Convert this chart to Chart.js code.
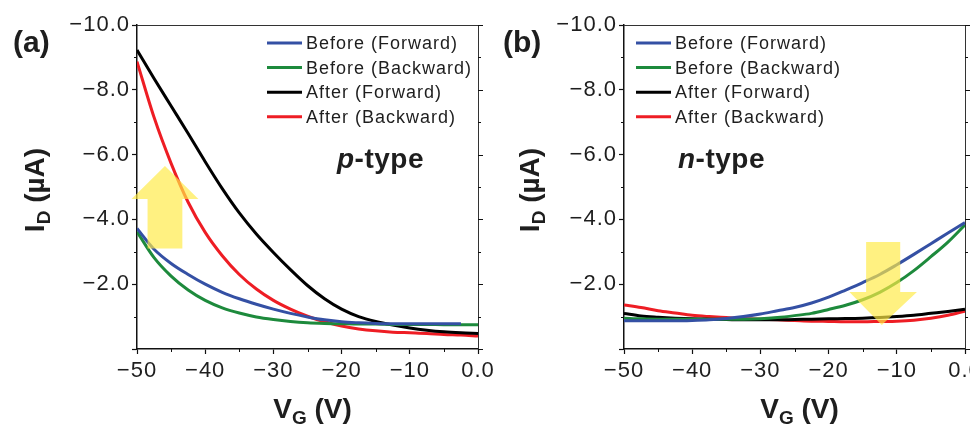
<!DOCTYPE html>
<html>
<head>
<meta charset="utf-8">
<script src="https://cdn.jsdelivr.net/npm/chart.js@4.4.1/dist/chart.umd.min.js"></script>
<style>
    html, body { margin: 0; padding: 0; background: #fff; }
    #wrap { position: relative; width: 970px; height: 426px; overflow: hidden; }
    canvas { position: absolute; top: 0; }
    #chartA { left: 0; }
    #chartB { left: 485px; }
</style>
</head>
<body>
<div id="wrap">
    <canvas id="chartA" width="510" height="426"></canvas>
    <canvas id="chartB" width="510" height="426"></canvas>
</div>
<script>
// gate voltage sweep points (V)
const vgValues = [-50, -47.5, -45, -42.5, -40, -37.5, -35, -32.5, -30, -27.5, -25, -22.5, -20, -17.5, -15, -12.5, -10, -7.5, -5, -2.5, 0];

const seriesLabels = ['Before (Forward)', 'Before (Backward)', 'After (Forward)', 'After (Backward)'];
const seriesColors = ['#3450a4', '#1d8a3c', '#000000', '#ee1d24'];

// (a) p-type, drain current in uA
const pBeforeForward = [-3.72, -3.08, -2.64, -2.3, -2.0, -1.75, -1.55, -1.38, -1.23, -1.1, -0.99, -0.9, -0.84, -0.81, -0.79, -0.78, -0.78, -0.78, -0.78, -0.78, null];
const pBeforeBackward = [-3.62, -2.82, -2.25, -1.82, -1.5, -1.27, -1.11, -0.99, -0.91, -0.85, -0.81, -0.79, -0.78, -0.77, -0.77, -0.76, -0.76, -0.76, -0.75, -0.75, -0.75];
const pAfterForward = [-9.23, -8.35, -7.5, -6.65, -5.78, -4.95, -4.2, -3.55, -2.98, -2.45, -1.96, -1.55, -1.23, -1.0, -0.85, -0.74, -0.65, -0.58, -0.53, -0.5, -0.48];
const pAfterBackward = [-8.87, -7.15, -5.73, -4.53, -3.6, -2.88, -2.3, -1.85, -1.5, -1.23, -1.01, -0.84, -0.71, -0.62, -0.56, -0.52, -0.5, -0.48, -0.45, -0.43, -0.4];

// (b) n-type
const nBeforeForward = [-0.87, -0.87, -0.87, -0.87, -0.88, -0.9, -0.94, -1.0, -1.08, -1.18, -1.28, -1.42, -1.6, -1.82, -2.05, -2.3, -2.6, -2.92, -3.25, -3.58, -3.9];
const nBeforeBackward = [-0.95, -0.93, -0.92, -0.92, -0.92, -0.92, -0.92, -0.92, -0.93, -0.97, -1.03, -1.1, -1.22, -1.35, -1.52, -1.75, -2.05, -2.42, -2.85, -3.3, -3.83];
const nAfterForward = [-1.1, -1.02, -0.98, -0.95, -0.93, -0.92, -0.91, -0.9, -0.9, -0.9, -0.91, -0.92, -0.93, -0.94, -0.95, -0.97, -1.0, -1.04, -1.1, -1.16, -1.23];
const nAfterBackward = [-1.36, -1.28, -1.18, -1.11, -1.04, -1.0, -0.97, -0.94, -0.92, -0.9, -0.88, -0.86, -0.85, -0.84, -0.84, -0.85, -0.86, -0.89, -0.95, -1.04, -1.17];

const xTickValues = [-50, -40, -30, -20, -10, 0];
const xTickLabels = ['\u221250', '\u221240', '\u221230', '\u221220', '\u221210', '0.0'];
const yTickValues = [-10, -8, -6, -4, -2, 0];
const yTickLabels = ['\u221210.0', '\u22128.0', '\u22126.0', '\u22124.0', '\u22122.0', ''];

const FONT = "'Liberation Sans', Arial, sans-serif";
Chart.defaults.font.family = FONT;

// draws "main" + subscript + rest, centred on x, baseline y
function drawSubscripted(ctx, main, sub, rest, x, y, size) {
    ctx.font = 'bold ' + size + 'px ' + FONT;
    const w1 = ctx.measureText(main).width;
    const w3 = ctx.measureText(rest).width;
    ctx.font = 'bold ' + Math.round(size * 0.68) + 'px ' + FONT;
    const w2 = ctx.measureText(sub).width;
    let start = x - (w1 + w2 + w3) / 2;
    ctx.textAlign = 'left';
    ctx.textBaseline = 'alphabetic';
    ctx.font = 'bold ' + size + 'px ' + FONT;
    ctx.fillText(main, start, y);
    ctx.font = 'bold ' + Math.round(size * 0.68) + 'px ' + FONT;
    ctx.fillText(sub, start + w1, y + size * 0.22);
    ctx.font = 'bold ' + size + 'px ' + FONT;
    ctx.fillText(rest, start + w1 + w2, y);
}

const panelDecor = {
    id: 'panelDecor',
    beforeDraw(chart) {
        chart.ctx.letterSpacing = '1px';
    },
    afterDatasetsDraw(chart, args, opts) {
        // translucent yellow arrow, on top of the curves
        const { ctx, scales: { x, y } } = chart;
        const a = opts.arrow;
        const cx = x.getPixelForValue(a.x);
        const sh = x.getPixelForValue(a.x + a.shaftHalf) - cx;
        const hh = x.getPixelForValue(a.x + a.headHalf) - cx;
        const yTail = y.getPixelForValue(a.tail);
        const yBase = y.getPixelForValue(a.headBase);
        const yTip = y.getPixelForValue(a.tip);
        const tipX = x.getPixelForValue(a.tipX);
        ctx.save();
        ctx.fillStyle = 'rgba(255, 234, 70, 0.68)';
        ctx.beginPath();
        ctx.moveTo(cx - sh, yTail);
        ctx.lineTo(cx - sh, yBase);
        ctx.lineTo(cx - hh, yBase);
        ctx.lineTo(tipX, yTip);
        ctx.lineTo(cx + hh, yBase);
        ctx.lineTo(cx + sh, yBase);
        ctx.lineTo(cx + sh, yTail);
        ctx.closePath();
        ctx.fill();
        ctx.restore();
    },
    afterDraw(chart, args, opts) {
        const { ctx, chartArea, scales: { x, y } } = chart;
        const { left, right, top, bottom } = chartArea;
        ctx.save();

        // top and right frame
        ctx.strokeStyle = '#333';
        ctx.lineWidth = 1;
        ctx.beginPath();
        ctx.moveTo(left, top + 0.5);
        ctx.lineTo(right + 1, top + 0.5);
        ctx.moveTo(right + 0.5, top);
        ctx.lineTo(right + 0.5, bottom);
        ctx.stroke();

        // minor ticks + right side ticks
        ctx.strokeStyle = '#111';
        ctx.beginPath();
        [-9, -7, -5, -3, -1].forEach(v => {
            const py = Math.round(y.getPixelForValue(v)) + 0.5;
            ctx.moveTo(left - 3, py); ctx.lineTo(left, py);
            ctx.moveTo(right, py); ctx.lineTo(right + 3, py);
        });
        yTickValues.forEach(v => {
            const py = Math.round(y.getPixelForValue(v)) + 0.5;
            ctx.moveTo(right, py); ctx.lineTo(right + 5, py);
        });
        [-45, -35, -25, -15, -5].forEach(v => {
            const px = Math.round(x.getPixelForValue(v)) + 0.5;
            ctx.moveTo(px, bottom); ctx.lineTo(px, bottom + 3);
        });
        ctx.stroke();

        ctx.fillStyle = '#1e1e1e';
        ctx.letterSpacing = '0px';

        // axis titles
        drawSubscripted(ctx, 'V', 'G', ' (V)', (left + right) / 2 + 5, 418, 28);
        ctx.save();
        ctx.translate(opts.yTitleX, 190);
        ctx.rotate(-Math.PI / 2);
        drawSubscripted(ctx, 'I', 'D', ' (\u00b5A)', 0, 0, 28);
        ctx.restore();

        // panel tag
        ctx.font = 'bold 30px ' + FONT;
        ctx.textAlign = 'left';
        ctx.textBaseline = 'alphabetic';
        ctx.fillText(opts.tag, opts.tagX, 52);

        // p-type / n-type
        ctx.letterSpacing = '0.5px';
        ctx.font = 'italic bold 28px ' + FONT;
        ctx.fillText(opts.typeLetter, opts.typeX, 168);
        const lw = ctx.measureText(opts.typeLetter).width;
        ctx.font = 'bold 28px ' + FONT;
        ctx.fillText('-type', opts.typeX + lw, 168);

        // legend
        ctx.letterSpacing = '1px';
        ctx.font = '18px ' + FONT;
        ctx.textBaseline = 'middle';
        chart.data.datasets.forEach((ds, i) => {
            const ly = 43 + i * 24.6;
            ctx.strokeStyle = ds.borderColor;
            ctx.lineWidth = 3;
            ctx.beginPath();
            ctx.moveTo(opts.legendX, ly);
            ctx.lineTo(opts.legendX + 35, ly);
            ctx.stroke();
            ctx.fillText(ds.label, opts.legendX + 39, ly + 1);
        });

        ctx.restore();
    }
};

function buildPanel(canvasId, panel) {
    const canvas = document.getElementById(canvasId);
    return new Chart(canvas, {
        type: 'line',
        data: {
            datasets: panel.series.map((values, i) => ({
                label: seriesLabels[i],
                data: vgValues.map((v, k) => ({ x: v, y: values[k] })),
                borderColor: seriesColors[i],
                backgroundColor: seriesColors[i],
                borderWidth: 3,
                pointRadius: 0,
                cubicInterpolationMode: 'monotone',
            })),
        },
        options: {
            responsive: false,
            animation: false,
            devicePixelRatio: 1,
            layout: { padding: { top: 25, right: panel.padRight, left: 0, bottom: 0 } },
            plugins: {
                legend: { display: false },
                tooltip: { enabled: false },
                panelDecor: panel.decor,
            },
            scales: {
                x: {
                    type: 'linear',
                    min: -50,
                    max: 0,
                    afterFit: (scale) => { scale.height = 77; },
                    grid: { display: true, drawOnChartArea: false, drawTicks: true, tickLength: 5, tickColor: '#111', tickWidth: 1.2 },
                    border: { display: true, color: '#111', width: 1.5 },
                    ticks: {
                        stepSize: 10,
                        autoSkip: false,
                        maxRotation: 0,
                        padding: 4,
                        color: '#1e1e1e',
                        font: { size: 22 },
                        callback: (value) => xTickLabels[xTickValues.indexOf(value)],
                    },
                },
                y: {
                    type: 'linear',
                    min: -10,
                    max: 0,
                    reverse: true,
                    afterFit: (scale) => { scale.width = panel.axisWidth; },
                    grid: { display: true, drawOnChartArea: false, drawTicks: true, tickLength: 5, tickColor: '#111', tickWidth: 1.2 },
                    border: { display: true, color: '#111', width: 1.5 },
                    ticks: {
                        stepSize: 2,
                        autoSkip: false,
                        padding: 2,
                        color: '#1e1e1e',
                        font: { size: 22 },
                        callback: (value) => yTickLabels[yTickValues.indexOf(value)],
                    },
                },
            },
        },
        plugins: [panelDecor],
    });
}

buildPanel('chartA', {
    series: [pBeforeForward, pBeforeBackward, pAfterForward, pAfterBackward],
    axisWidth: 137,
    padRight: 32,
    decor: {
        tag: '(a)', tagX: 13,
        typeLetter: 'p', typeX: 337,
        legendX: 267,
        yTitleX: 44,
        arrow: { x: -45.9, tipX: -45.9, tail: -3.1, headBase: -4.63, tip: -5.65, shaftHalf: 2.55, headHalf: 4.9 },
    },
});

buildPanel('chartB', {
    series: [nBeforeForward, nBeforeBackward, nAfterForward, nAfterBackward],
    axisWidth: 139,
    padRight: 30,
    decor: {
        tag: '(b)', tagX: 18,
        typeLetter: 'n', typeX: 193,
        legendX: 151,
        yTitleX: 54,
        arrow: { x: -12, tipX: -12.2, tail: -3.3, headBase: -1.76, tip: -0.74, shaftHalf: 2.5, headHalf: 4.95 },
    },
});
</script>
</body>
</html>
